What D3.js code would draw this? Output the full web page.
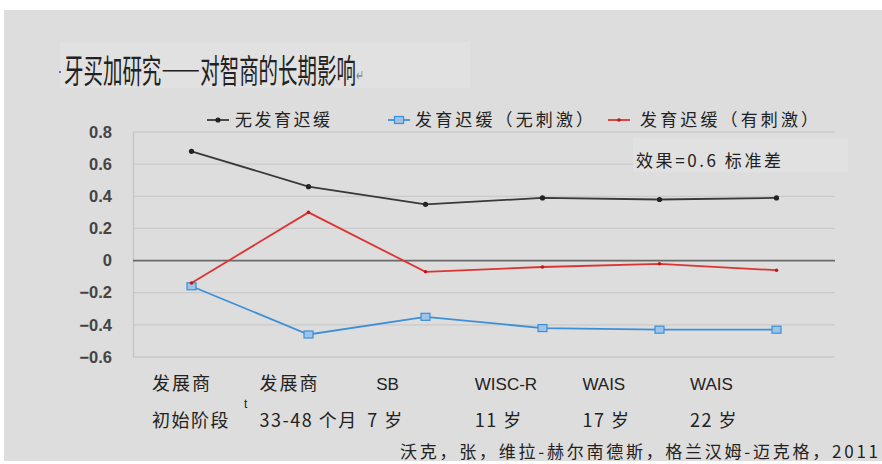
<!DOCTYPE html>
<html lang="zh">
<head>
<meta charset="UTF-8">
<title>牙买加研究——对智商的长期影响</title>
<style>
    body { margin: 0; background: #fff; }
    svg { display: block; }
    .cjk { font-family: "Noto Sans CJK SC", sans-serif; }
    .tick text { font-family: "Liberation Sans", Arial, sans-serif; font-weight: bold; font-size: 16.5px; fill: #444; }
</style>
</head>
<body>
<script src="https://d3js.org/d3.v7.min.js"></script>
<script>
// categories and labels
const categories = ['c1', 'c2', 'c3', 'c4', 'c5', 'c6'];
const labelRow1 = ['发展商', '发展商', 'SB', 'WISC-R', 'WAIS', 'WAIS'];
const labelRow2 = ['初始阶段', '33-48 个月', '7 岁', '11 岁', '17 岁', '22 岁'];
const yTicks = [0.8, 0.6, 0.4, 0.2, 0, -0.2, -0.4, -0.6];

// series values
const noDelay = [0.68, 0.46, 0.35, 0.39, 0.38, 0.39];
const delayNoStim = [-0.16, -0.46, -0.35, -0.42, -0.43, -0.43];
const delayStim = [-0.14, 0.30, -0.07, -0.04, -0.02, -0.06];

const seriesNames = ['无发育迟缓', '发育迟缓（无刺激）', '发育迟缓（有刺激）'];

const W = 882, H = 464;
const plot = { left: 133, right: 835, top: 132, bottom: 357 };

const svg = d3.select('body').append('svg').attr('width', W).attr('height', H);

// slide background
svg.append('rect').attr('x', 4).attr('y', 10).attr('width', W - 4).attr('height', 451).attr('fill', '#dddddd');
svg.append('rect').attr('x', 60).attr('y', 42).attr('width', 410).attr('height', 46).attr('fill', '#e1e1e1');

// title (horizontally condensed, with the little return mark at the end)
const title = svg.append('text').attr('class', 'cjk')
    .attr('transform', 'translate(64,83) scale(0.59,1)')
    .attr('font-size', 33).attr('fill', '#222');
title.append('tspan').text('牙买加研究——对智商的长期影响');
title.append('tspan').attr('font-size', 16).attr('fill', '#888').attr('dy', -2).text('↵');
svg.append('circle').attr('cx', 60).attr('cy', 72).attr('r', 1).attr('fill', '#3344cc');

const x = d3.scalePoint().domain(categories).range([plot.left, plot.right]).padding(0.5);
const y = d3.scaleLinear().domain([-0.6, 0.8]).range([plot.bottom, plot.top]);

// grid
svg.append('g').selectAll('line').data(yTicks.filter(d => d !== 0)).join('line')
    .attr('x1', plot.left).attr('x2', plot.right)
    .attr('y1', d => y(d)).attr('y2', d => y(d))
    .attr('stroke', '#cacaca').attr('stroke-width', 1.3);

// y axis
const yAxis = svg.append('g').attr('transform', `translate(${plot.left},0)`)
    .call(d3.axisLeft(y).tickValues(yTicks).tickSize(0).tickPadding(21).tickFormat(d => d === 0 ? '0' : d3.format('.1f')(d)));
yAxis.select('.domain').attr('stroke', '#c4c4c4').attr('stroke-width', 1.3);

// zero line
svg.append('line').attr('x1', plot.left).attr('x2', plot.right)
    .attr('y1', y(0)).attr('y2', y(0)).attr('stroke', '#6a6a6a').attr('stroke-width', 1.8);

const line = d3.line().x((d, i) => x(categories[i])).y(d => y(d));

const series = [
    { name: seriesNames[0], values: noDelay, color: '#383838', marker: 'dot' },
    { name: seriesNames[1], values: delayNoStim, color: '#3e8fd8', marker: 'square' },
    { name: seriesNames[2], values: delayStim, color: '#dd3333', marker: 'tri' }
];

function drawMarker(g, s, cx, cy) {
    if (s.marker === 'dot') {
        g.append('circle').attr('cx', cx).attr('cy', cy).attr('r', 2.6).attr('fill', '#222');
    } else if (s.marker === 'square') {
        g.append('rect').attr('x', cx - 4.5).attr('y', cy - 3.5).attr('width', 9).attr('height', 7)
            .attr('fill', '#9cc4e8').attr('stroke', s.color).attr('stroke-width', 1.2);
    } else {
        g.append('circle').attr('cx', cx).attr('cy', cy).attr('r', 1.8).attr('fill', '#c01818');
    }
}

series.forEach(s => {
    const g = svg.append('g');
    g.append('path').datum(s.values).attr('d', line)
        .attr('fill', 'none').attr('stroke', s.color).attr('stroke-width', 1.8);
    s.values.forEach((v, i) => drawMarker(g, s, x(categories[i]), y(v)));
});

// legend
const legendX = [207, 388, 608];
const legendTextX = [235, 415, 640];
const legendW = [95, 178, 178];
series.forEach((s, i) => {
    const g = svg.append('g');
    g.append('line').attr('x1', legendX[i]).attr('x2', legendX[i] + 22)
        .attr('y1', 120).attr('y2', 120).attr('stroke', s.color).attr('stroke-width', 1.8);
    drawMarker(g, s, legendX[i] + 11, 120);
    g.append('text').attr('class', 'cjk').attr('x', legendTextX[i]).attr('y', 126)
        .attr('font-size', 17).attr('fill', '#222')
        .attr('textLength', legendW[i]).attr('lengthAdjust', 'spacing')
        .text(s.name);
});

// annotation
svg.append('rect').attr('x', 633).attr('y', 138).attr('width', 215).attr('height', 34).attr('fill', '#e1e1e1');
svg.append('text').attr('class', 'cjk').attr('x', 636).attr('y', 167)
    .attr('font-size', 17).attr('fill', '#222')
    .attr('textLength', 145).attr('lengthAdjust', 'spacing')
    .text('效果=0.6 标准差');

// category labels
const latin = '"Liberation Sans", Arial, sans-serif';
const isLatin = s => /[A-Z]/.test(s);
const lx = d3.scalePoint().domain(categories).range([152, 690]);
svg.append('g').selectAll('text').data(categories).join('text')
    .attr('class', 'cjk')
    .attr('x', (d, i) => lx(d) + (i === 2 ? 9 : 0))
    .attr('y', 390).attr('fill', '#222')
    .attr('font-size', (d, i) => isLatin(labelRow1[i]) ? 17 : 18)
    .attr('letter-spacing', (d, i) => isLatin(labelRow1[i]) ? 0 : 2)
    .style('font-family', (d, i) => isLatin(labelRow1[i]) ? latin : null)
    .text((d, i) => labelRow1[i]);
svg.append('g').selectAll('text').data(categories).join('text')
    .attr('class', 'cjk')
    .attr('x', d => lx(d))
    .attr('y', 427).attr('font-size', 18).attr('fill', '#222')
    .attr('letter-spacing', 1.5)
    .text((d, i) => labelRow2[i]);
svg.append('text').attr('x', 244).attr('y', 408).attr('font-size', 12)
    .attr('font-family', latin).attr('fill', '#222').text('t');

// source
svg.append('text').attr('class', 'cjk').attr('x', 400).attr('y', 458)
    .attr('font-size', 17).attr('fill', '#222')
    .attr('textLength', 478).attr('lengthAdjust', 'spacing')
    .text('沃克，张，维拉-赫尔南德斯，格兰汉姆-迈克格，2011');
</script>
</body>
</html>
